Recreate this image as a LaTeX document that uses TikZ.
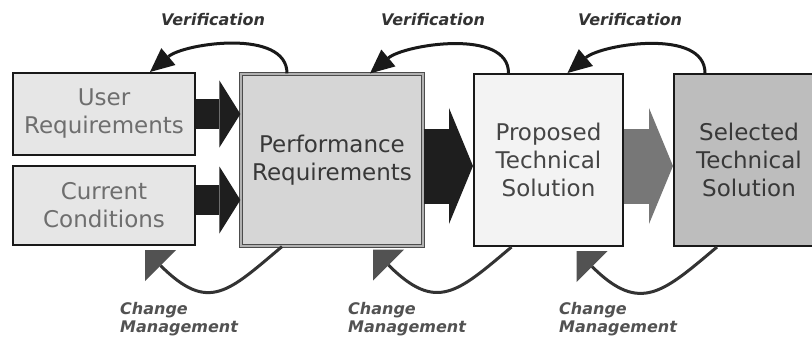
\documentclass[tikz,border=0pt]{standalone}
\usepackage{fontspec}
\setmainfont{DejaVu Sans}
\usepackage{tikz}
\usetikzlibrary{arrows.meta,calc}

\definecolor{inputfill}{HTML}{E6E6E6}
\definecolor{perffill}{HTML}{D6D6D6}
\definecolor{propfill}{HTML}{F3F3F3}
\definecolor{selfill}{HTML}{BDBDBD}
\definecolor{arrowdark}{HTML}{1E1E1E}
\definecolor{arrowgray}{HTML}{777777}

\begin{document}
\begin{tikzpicture}[x=1pt,y=1pt,
		box/.style={draw=black!90, line width=2pt, inner sep=0pt, align=center,
			font=\fontsize{23}{28}\selectfont},
		fat/.style={line width=30pt, draw=arrowdark,
			-{Triangle[length=21pt,width=67pt,line width=0pt]}},
		fatter/.style={line width=75pt,
			-{Triangle[length=24pt,width=116pt,line width=0pt]}},
		verif/.style={line width=3pt, draw=black!90,
			-{Triangle[length=24pt,width=22pt,line width=0pt]}},
		change/.style={line width=3pt, draw=black!80,
			-{Triangle[length=22pt,width=44pt,line width=0pt,color=black!68]}},
		looplabel/.style={inner sep=0pt, text=black!80,
			font=\fontsize{16}{18}\selectfont\bfseries\itshape},
		chglabel/.style={looplabel, text=black!68, align=left, anchor=west}
		]
		\useasboundingbox (0,0) rectangle (812,-337);
		
		% boxes
		\node[box, fill=inputfill, text=black!57, minimum width=182pt, minimum height=82pt]
		(user) at (104,-114) {User\\Requirements};
		\node[box, fill=inputfill, text=black!57, minimum width=182pt, minimum height=79pt]
		(cond) at (104,-205.5) {Current\\Conditions};
		\node[box, fill=perffill, text=black!78, draw=black!70, line width=1.2pt,
		double=black!30, double distance=1.6pt, minimum width=182pt, minimum height=172pt]
		(perf) at (332,-160) {Performance\\Requirements};
		\node[box, fill=propfill, text=black!73, minimum width=149pt, minimum height=172pt]
		(prop) at (548.5,-160) {Proposed\\Technical\\Solution};
		\node[box, fill=selfill, text=black!78, minimum width=150pt, minimum height=172pt]
		(sel) at (749,-160) {Selected\\Technical\\Solution};
		
		% block arrows
		\draw[fat] (user.east) -- (user.east -| perf.west);
		\draw[fat] ([yshift=5.5pt]cond.east) -- ([yshift=5.5pt]cond.east -| perf.west);
		\draw[fatter, draw=arrowdark] ([yshift=-6pt]perf.east) -- ([yshift=-6pt]perf.east -| prop.west);
		\draw[fatter, draw=arrowgray] ([yshift=-6pt]prop.east) -- ([yshift=-6pt]prop.east -| sel.west);
		
		% verification loops
		\draw[verif] ([xshift=-45pt]perf.north) to[out=90, in=40, out distance=45pt, in distance=45pt]
		([xshift=46pt]user.north);
		\draw[verif] ([xshift=-40pt]prop.north) to[out=90, in=40, out distance=45pt, in distance=45pt]
		([xshift=38pt]perf.north);
		\draw[verif] ([xshift=-44pt]sel.north) to[out=90, in=40, out distance=45pt, in distance=45pt]
		([xshift=19pt]prop.north);
		\node[looplabel] (ver1) at (213,-20) {Verification};
		\node[looplabel] (ver2) at (433,-20) {Verification};
		\node[looplabel] (ver3) at (630,-20) {Verification};
		
		% change management loops
		\draw[change] ([xshift=-50pt]perf.south) to[out=-140, in=-45, out distance=70pt, in distance=90pt]
		([xshift=41pt,yshift=-4pt]cond.south);
		\draw[change] ([xshift=-37pt]prop.south) to[out=-140, in=-45, out distance=70pt, in distance=90pt]
		([xshift=41pt,yshift=-3pt]perf.south);
		\draw[change] ([xshift=-32pt]sel.south) to[out=-140, in=-45, out distance=70pt, in distance=90pt]
		([xshift=28pt,yshift=-4pt]prop.south);
		\node[chglabel] (chg1) at (120,-319) {Change\\Management};
		\node[chglabel] (chg2) at (348,-319) {Change\\Management};
		\node[chglabel] (chg3) at (559,-319) {Change\\Management};
		
	\end{tikzpicture}
\end{document}
